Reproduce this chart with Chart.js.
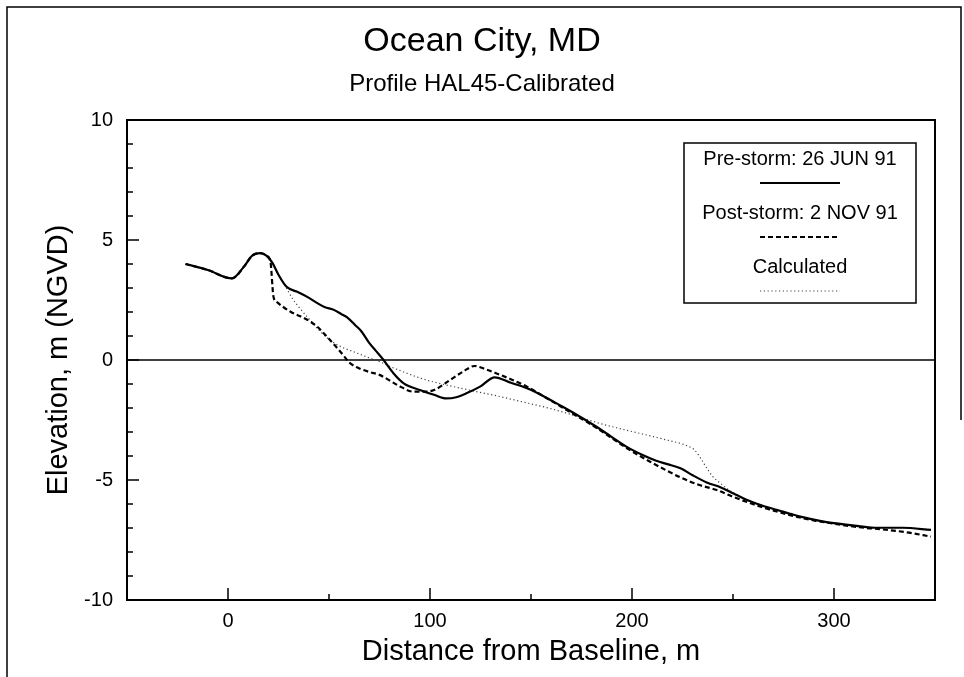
<!DOCTYPE html>
<html>
<head>
<meta charset="utf-8">
<script src="https://cdn.jsdelivr.net/npm/chart.js@4.4.0/dist/chart.umd.min.js"></script>
<style>
  html, body { margin: 0; padding: 0; background: #fff; }
</style>
</head>
<body>
<canvas id="profileChart" width="964" height="677"></canvas>
<script>
// Distance from baseline (m) and elevation (m, NGVD)
const preStormX = [-21, -10, 2, 8, 12, 16, 19, 22, 25, 29, 34, 39, 44, 48, 52, 56, 59, 63, 66, 70, 73, 77, 82, 87, 95, 102, 108, 113, 118, 125, 132, 140, 148, 156, 164, 172, 181, 189, 197, 205, 212, 218, 224, 230, 237, 244, 250, 257, 264, 272, 280, 285, 293, 301, 310, 320, 334, 348];
const preStormY = [4.0, 3.75, 3.4, 3.9, 4.35, 4.45, 4.35, 4.05, 3.55, 3.05, 2.85, 2.64, 2.38, 2.2, 2.1, 1.92, 1.78, 1.45, 1.2, 0.7, 0.4, 0.0, -0.56, -0.97, -1.25, -1.45, -1.6, -1.55, -1.39, -1.1, -0.72, -0.95, -1.18, -1.5, -1.87, -2.25, -2.71, -3.15, -3.6, -3.95, -4.2, -4.35, -4.51, -4.8, -5.1, -5.31, -5.55, -5.83, -6.05, -6.25, -6.45, -6.56, -6.7, -6.81, -6.9, -6.99, -6.99, -7.08];

const postStormX = [-21, -10, 2, 8, 12, 16, 19, 21, 22.5, 24, 31, 39, 44, 49, 53, 57, 60, 65, 70, 75, 80, 84, 92, 97, 102, 110, 117, 122, 128, 133, 140, 148, 156, 164, 172, 181, 189, 197, 205, 209, 217, 225, 233, 242, 250, 258, 267, 275, 283, 291, 300, 308, 316, 324, 336, 348];
const postStormY = [4.0, 3.75, 3.4, 3.9, 4.35, 4.45, 4.35, 4.1, 2.64, 2.43, 2.01, 1.69, 1.4, 0.97, 0.6, 0.21, -0.1, -0.35, -0.5, -0.62, -0.85, -1.05, -1.32, -1.32, -1.25, -0.83, -0.45, -0.25, -0.4, -0.56, -0.8, -1.11, -1.5, -1.9, -2.3, -2.75, -3.2, -3.65, -4.05, -4.24, -4.6, -4.93, -5.2, -5.42, -5.7, -5.95, -6.2, -6.39, -6.56, -6.7, -6.82, -6.92, -7.0, -7.06, -7.18, -7.36];

const calcX = [-21, -10, 2, 8, 12, 16, 19, 22, 25, 29, 32, 35.6, 40.6, 45, 50.5, 56, 62, 68, 75, 81, 87, 95, 102, 110, 122, 135, 147, 159, 171, 184, 196, 209, 218, 225, 228, 231, 234, 237, 240, 244, 248, 255, 262, 272, 285, 301, 320, 334, 348];
const calcY = [4.0, 3.75, 3.4, 3.9, 4.35, 4.45, 4.35, 4.05, 3.55, 2.99, 2.55, 2.15, 1.67, 1.25, 0.83, 0.55, 0.35, 0.15, -0.07, -0.3, -0.5, -0.75, -0.92, -1.08, -1.3, -1.53, -1.77, -2.01, -2.3, -2.64, -2.9, -3.16, -3.35, -3.5, -3.6, -3.75, -4.1, -4.5, -4.86, -5.15, -5.42, -5.75, -6.0, -6.25, -6.56, -6.81, -6.99, -6.99, -7.08];

const xTickLabels = [0, 100, 200, 300];
const yTickLabels = [-10, -5, 0, 5, 10];
const xMinorTicks = [-50, 50, 150, 250, 350];

const legendLabels = ['Pre-storm: 26 JUN 91', 'Post-storm: 2 NOV 91', 'Calculated'];

const FONT = '"Liberation Sans", Arial, Helvetica, sans-serif';

function toPoints(xs, ys) {
    return xs.map((x, i) => ({ x: x, y: ys[i] }));
}

// draws the frame, titles, inner tick marks, zero line and the boxed legend
const decorPlugin = {
    id: 'decor',
    beforeDraw(chart) {
        const c = chart.ctx;
        c.save();
        c.fillStyle = '#fff';
        c.fillRect(0, 0, chart.width, chart.height);
        c.restore();
    },
    beforeDatasetsDraw(chart) {
        const c = chart.ctx;
        const a = chart.chartArea;
        const y0 = chart.scales.y.getPixelForValue(0);
        c.save();
        c.strokeStyle = '#000';
        c.lineWidth = 1.3;
        c.beginPath();
        c.moveTo(a.left, y0);
        c.lineTo(a.right, y0);
        c.stroke();
        c.restore();
    },
    afterDraw(chart) {
        const c = chart.ctx;
        const a = chart.chartArea;
        const xs = chart.scales.x;
        const ys = chart.scales.y;
        c.save();
        c.strokeStyle = '#000';

        // outer frame
        c.lineWidth = 1.5;
        c.beginPath();
        c.moveTo(7, chart.height);
        c.lineTo(7, 7);
        c.lineTo(961, 7);
        c.lineTo(961, 420);
        c.stroke();

        // plot box top and right
        c.lineWidth = 2;
        c.beginPath();
        c.moveTo(a.left, a.top);
        c.lineTo(a.right, a.top);
        c.lineTo(a.right, a.bottom);
        c.stroke();

        // inward ticks
        c.lineWidth = 1.5;
        c.beginPath();
        xTickLabels.forEach(v => {
            const px = xs.getPixelForValue(v);
            c.moveTo(px, a.bottom);
            c.lineTo(px, a.bottom - 12);
        });
        xMinorTicks.forEach(v => {
            const px = xs.getPixelForValue(v);
            c.moveTo(px, a.bottom);
            c.lineTo(px, a.bottom - 6);
        });
        for (let v = -9; v <= 9; v++) {
            const py = ys.getPixelForValue(v);
            const len = (v % 5 === 0) ? 12 : 6;
            c.moveTo(a.left, py);
            c.lineTo(a.left + len, py);
        }
        c.stroke();

        // titles
        c.fillStyle = '#000';
        c.textAlign = 'center';
        c.textBaseline = 'middle';
        c.font = '34px ' + FONT;
        c.fillText('Ocean City, MD', 482, 42);
        c.font = '24px ' + FONT;
        c.fillText('Profile HAL45-Calibrated', 482, 84);

        // legend box
        const lx = 684, ly = 143, lw = 232, lh = 160;
        c.fillStyle = '#fff';
        c.fillRect(lx, ly, lw, lh);
        c.lineWidth = 1.5;
        c.strokeRect(lx, ly, lw, lh);
        const cx = lx + lw / 2;
        const styles = chart.data.datasets;
        c.fillStyle = '#000';
        c.font = '20px ' + FONT;
        legendLabels.forEach((txt, i) => {
            const ty = ly + 16 + i * 54;
            c.fillText(txt, cx, ty);
            const ds = styles[i];
            c.strokeStyle = ds.borderColor;
            c.lineWidth = ds.borderWidth;
            c.setLineDash(ds.borderDash || []);
            c.beginPath();
            c.moveTo(cx - 40, ty + 24);
            c.lineTo(cx + 40, ty + 24);
            c.stroke();
            c.setLineDash([]);
        });
        c.restore();
    }
};

const ctx = document.getElementById('profileChart').getContext('2d');

new Chart(ctx, {
    type: 'line',
    data: {
        datasets: [
            {
                label: legendLabels[0],
                data: toPoints(preStormX, preStormY),
                borderColor: '#000',
                borderWidth: 2.2,
                pointRadius: 0,
                cubicInterpolationMode: 'monotone',
                fill: false
            },
            {
                label: legendLabels[1],
                data: toPoints(postStormX, postStormY),
                borderColor: '#000',
                borderWidth: 2.2,
                borderDash: [5, 3],
                pointRadius: 0,
                cubicInterpolationMode: 'monotone',
                fill: false
            },
            {
                label: legendLabels[2],
                data: toPoints(calcX, calcY),
                borderColor: '#444',
                borderWidth: 1.2,
                borderDash: [1.2, 2.6],
                pointRadius: 0,
                cubicInterpolationMode: 'monotone',
                fill: false
            }
        ]
    },
    options: {
        responsive: false,
        animation: false,
        layout: {
            padding: { left: 0, right: 29, top: 120, bottom: 0 }
        },
        plugins: {
            legend: { display: false },
            tooltip: { enabled: false },
            title: { display: false }
        },
        scales: {
            x: {
                type: 'linear',
                min: -50,
                max: 350,
                afterBuildTicks: s => { s.ticks = xTickLabels.map(v => ({ value: v })); },
                afterFit: s => { s.height = 77; },
                grid: { display: false, drawTicks: false },
                border: { display: true, color: '#000', width: 2 },
                ticks: {
                    color: '#000',
                    padding: 9,
                    maxRotation: 0,
                    font: { family: FONT, size: 20 }
                },
                title: {
                    display: true,
                    text: 'Distance from Baseline, m',
                    color: '#000',
                    font: { family: FONT, size: 29 },
                    padding: { top: 0, bottom: 8 }
                }
            },
            y: {
                type: 'linear',
                min: -10,
                max: 10,
                afterBuildTicks: s => { s.ticks = yTickLabels.map(v => ({ value: v })); },
                afterFit: s => { s.width = 127; },
                grid: { display: false, drawTicks: false },
                border: { display: true, color: '#000', width: 2 },
                ticks: {
                    color: '#000',
                    padding: 14,
                    font: { family: FONT, size: 20 }
                },
                title: {
                    display: true,
                    text: 'Elevation, m (NGVD)',
                    color: '#000',
                    font: { family: FONT, size: 29 },
                    padding: { top: 42, bottom: 0 }
                }
            }
        }
    },
    plugins: [decorPlugin]
});
</script>
</body>
</html>
